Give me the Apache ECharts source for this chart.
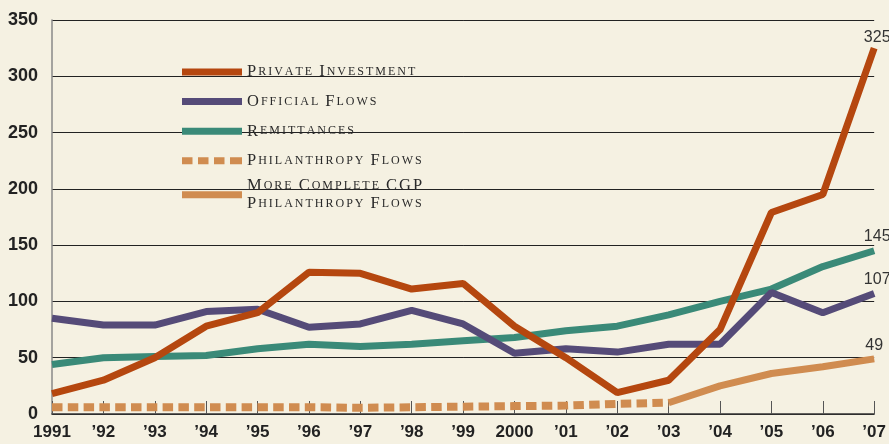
<!DOCTYPE html>
<html>
<head>
<meta charset="utf-8">
<script src="https://cdn.jsdelivr.net/npm/echarts@6/dist/echarts.min.js"></script>
<style>
  html, body { margin: 0; padding: 0; background: #f5f1e2; }
  #chart { width: 889px; height: 444px; }
</style>
</head>
<body>
<div id="chart"></div>
<script>
// 年份（x 轴类目）
const years = ['1991', '\u201992', '\u201993', '\u201994', '\u201995', '\u201996', '\u201997', '\u201998', '\u201999',
  '2000', '\u201901', '\u201902', '\u201903', '\u201904', '\u201905', '\u201906', '\u201907']

// 各系列数值（十亿美元）
const privateInvestment = [18, 30, 50, 78, 90, 126, 125, 111, 116, 78, 50, 19, 30, 75, 179, 195, 325]
const officialFlows = [85, 79, 79, 91, 93, 77, 80, 92, 80, 54, 58, 55, 62, 62, 108, 90, 107]
const remittances = [44, 50, 51, 52, 58, 62, 60, 62, 65, 68, 74, 78, 88, 100, 111, 131, 145]
const philanthropy = [6, 6, 6, 6, 6, 6, 5.5, 6, 6.5, 7, 7.5, 9, 10, null, null, null, null]
const cgpPhilanthropy = [null, null, null, null, null, null, null, null, null, null, null, null, 10, 25, 36, 42, 49]

// 颜色
const COLORS = {
  private: '#b5470f',
  official: '#554b78',
  remit: '#3a8a78',
  phil: '#d08c50'
}

const SANS = '"Liberation Sans", Arial, sans-serif'
const SERIF = '"Liberation Serif", "DejaVu Serif", serif'

// 虚线图例图标（四个小方块）
const DASH_ICON = 'path://M0,0h10.5v7h-10.5zM16,0h10.5v7h-10.5zM32,0h10.5v7h-10.5zM48,0h12v7h-12z'

/**
 * 小型大写字母：每个字母单独一个 token，大写字母用大号，小写转大写用小号（带字距）
 */
function smallCaps(text) {
  return text.split('\n').map(line => {
    let out = ''
    for (const ch of line) {
      if (ch === ' ') { out += '{sp| }'; continue }
      const style = (ch >= 'A' && ch <= 'Z') ? 'b' : 's'
      out += `{${style}|${ch.toUpperCase()}}`
    }
    return out
  }).join('\n')
}

// 图例显示文本（第五项两行）
const legendText = {
  'Private Investment': 'Private Investment',
  'Official Flows': 'Official Flows',
  'Remittances': 'Remittances',
  'Philanthropy Flows': 'Philanthropy Flows',
  'More Complete CGP Philanthropy Flows': 'More Complete CGP\nPhilanthropy Flows'
}

// 图例富文本样式
function legendRich(lineHeight) {
  return {
    b: { fontFamily: SERIF, fontSize: 16.5, color: '#2a2a2a', lineHeight: lineHeight, padding: [0, 2, 0, 0] },
    s: { fontFamily: SERIF, fontSize: 12, color: '#2a2a2a', lineHeight: lineHeight, padding: [0, 2, 0, 0] },
    sp: { fontFamily: SERIF, fontSize: 12, color: '#2a2a2a', lineHeight: lineHeight, padding: [0, 2, 0, 0] }
  }
}

// 图例公共配置
function legendBase(top, gap, lineHeight, items) {
  return {
    orient: 'vertical',
    left: 182,
    top: top,
    padding: 0,
    itemWidth: 60,
    itemHeight: 7,
    itemGap: gap,
    selectedMode: false,
    itemStyle: { borderWidth: 0 },
    data: items,
    formatter: name => smallCaps(legendText[name]),
    textStyle: { color: '#2a2a2a', rich: legendRich(lineHeight) }
  }
}

// 末端数值标签
function endLabel(offset) {
  return {
    show: true,
    distance: 0,
    align: 'center',
    verticalAlign: 'bottom',
    offset: offset,
    color: '#333',
    fontFamily: SANS,
    fontSize: 16,
    formatter: p => String(p.value)
  }
}

function lineSeries(name, data, color, extra) {
  return Object.assign({
    name: name,
    type: 'line',
    data: data,
    symbol: 'none',
    smooth: false,
    connectNulls: false,
    lineStyle: { width: 7, color: color, cap: 'butt' },
    itemStyle: { color: color },
    emphasis: { disabled: true },
    z: 2
  }, extra || {})
}

const chart = echarts.init(document.getElementById('chart'), null, { renderer: 'canvas' })

const option = {
  backgroundColor: '#f5f1e2',
  animation: false,
  grid: { left: 52, right: 9, top: 20, bottom: 30, containLabel: false },
  legend: [
    legendBase(63.5, 12.6, 16, [
      { name: 'Private Investment', icon: 'rect' },
      { name: 'Official Flows', icon: 'rect' },
      { name: 'Remittances', icon: 'rect' },
      { name: 'Philanthropy Flows', icon: DASH_ICON }
    ]),
    legendBase(177.5, 10, 17.6, [
      { name: 'More Complete CGP Philanthropy Flows', icon: 'rect' }
    ])
  ],
  xAxis: {
    type: 'category',
    boundaryGap: false,
    data: years,
    axisLine: { lineStyle: { color: '#333', width: 1.5 } },
    axisTick: { inside: true, length: 13, lineStyle: { color: '#555', width: 1 } },
    axisLabel: {
      color: '#222',
      fontFamily: SANS,
      fontWeight: 'bold',
      fontSize: 17,
      margin: 10,
      interval: 0
    },
    splitLine: { show: false }
  },
  yAxis: {
    type: 'value',
    min: 0,
    max: 350,
    interval: 50,
    axisLine: { show: true, lineStyle: { color: '#888', width: 1.5 } },
    axisTick: { show: false },
    axisLabel: {
      color: '#222',
      fontFamily: SANS,
      fontWeight: 'bold',
      fontSize: 18,
      margin: 14
    },
    splitLine: { lineStyle: { color: '#222', width: 1 } }
  },
  series: [
    lineSeries('Philanthropy Flows', philanthropy, COLORS.phil, {
      lineStyle: { width: 8, color: COLORS.phil, type: [10.5, 5.3], cap: 'butt' }
    }),
    lineSeries('More Complete CGP Philanthropy Flows', cgpPhilanthropy, COLORS.phil, { endLabel: endLabel([0, -5]) }),
    lineSeries('Remittances', remittances, COLORS.remit, { endLabel: endLabel([3, -6]) }),
    lineSeries('Official Flows', officialFlows, COLORS.official, { endLabel: endLabel([3, -6]) }),
    lineSeries('Private Investment', privateInvestment, COLORS.private, { endLabel: endLabel([3, -3]) })
  ]
}

chart.setOption(option)
</script>
</body>
</html>
